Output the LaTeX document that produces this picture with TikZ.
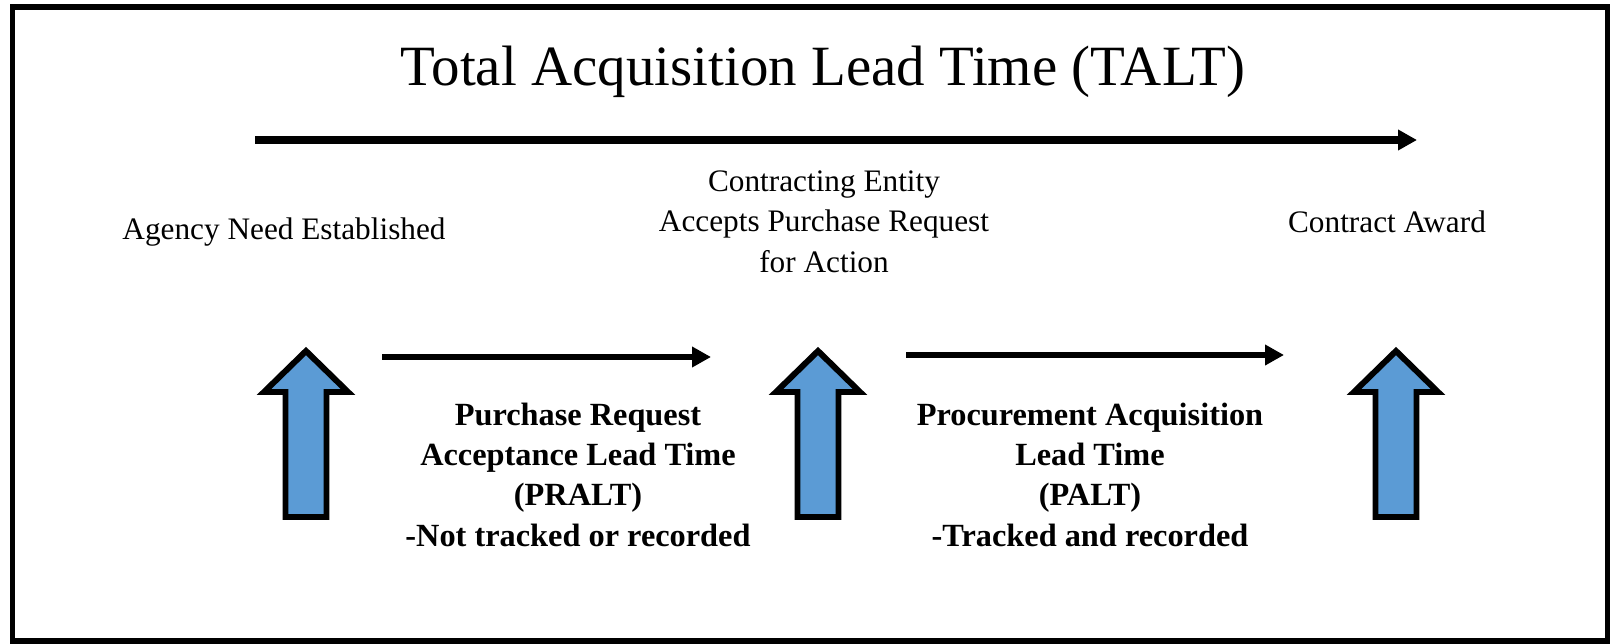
\documentclass[tikz,border=0pt]{standalone}
\usepackage{fontspec}
\setmainfont{Liberation Serif}
\usetikzlibrary{arrows.meta}
\definecolor{blockblue}{HTML}{5B9BD5}
\tikzset{
    timeline/.style={line width=1.8pt, -{Triangle[length=5.4pt,width=5.6pt]}},
    milestone/.style={font=\fontsize{8.9}{11.4}\selectfont, align=center, anchor=base, inner sep=0pt},
    phase/.style={font=\fontsize{9.2}{11.4}\selectfont\bfseries, align=center, anchor=base, inner sep=0pt},
    blockarrow/.style={fill=blockblue, draw=black, line width=1.7pt, miter limit=10}
}
\begin{document}
\begin{tikzpicture}
            %\draw[lightgray] (0, 0) grid (16, 6);
            \useasboundingbox (0, 0) rectangle (16.10, 6.43);
            \draw[line width=1.7pt] (0.125, 0.02) rectangle (16.08, 6.36);
            
            \node[inner sep=0pt, anchor=base, font=\fontsize{16.2}{19}\selectfont] (title) at (8.23, 5.58) {Total Acquisition Lead Time (TALT)};
            \coordinate (talt start) at (2.55, 5.03);
            \coordinate (talt end) at (14.17, 5.03);
            \draw[timeline, line width=2pt] (talt start) -- (talt end);
            
            % multi-line nodes sit on the baseline of their last line
            \node[milestone] (need) at (2.84, 4.04) {Agency Need Established};
            \node[milestone] (accept) at (8.24, 3.71) {Contracting Entity\\Accepts Purchase Request\\for Action};
            \node[milestone] (award) at (13.87, 4.11) {Contract Award};
            
            \foreach \x in {3.06, 8.18, 13.96}
                \draw[blockarrow] (\x, 2.92) -- (\x + 0.42, 2.51) -- (\x + 0.205, 2.51) -- (\x + 0.205, 1.26)
                    -- (\x - 0.205, 1.26) -- (\x - 0.205, 2.51) -- (\x - 0.42, 2.51) -- cycle;
            
            \coordinate (pralt start) at (3.82, 2.86);
            \coordinate (pralt end) at (7.11, 2.86);
            \draw[timeline] (pralt start) -- (pralt end);
            \node[phase] (pralt) at (5.78, 0.97) {Purchase Request\\Acceptance Lead Time\\(PRALT)\\-Not tracked or recorded};
            
            \coordinate (palt start) at (9.06, 2.88);
            \coordinate (palt end) at (12.84, 2.88);
            \draw[timeline] (palt start) -- (palt end);
            \node[phase] (palt) at (10.90, 0.97) {Procurement Acquisition\\Lead Time\\(PALT)\\-Tracked and recorded};
        \end{tikzpicture}
\end{document}
